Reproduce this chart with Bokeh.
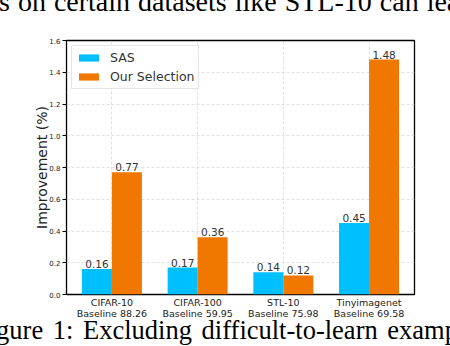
from bokeh.plotting import figure
from bokeh.models import (ColumnDataSource, Range1d, FixedTicker, PrintfTickFormatter,
                          Legend, LegendItem, LinearAxis, Div)
from bokeh.layouts import column
from bokeh.transform import dodge
from bokeh.core.properties import value
from bokeh.embed import file_html
from bokeh.resources import INLINE

# ---- data ----
categories = ["CIFAR-10", "CIFAR-100", "STL-10", "Tinyimagenet"]
baselines = ["Baseline 88.26", "Baseline 59.95", "Baseline 75.98", "Baseline 69.58"]
sas = [0.16, 0.17, 0.14, 0.45]
ours = [0.77, 0.36, 0.12, 1.48]
y_ticks = [0.0, 0.2, 0.4, 0.6, 0.8, 1.0, 1.2, 1.4, 1.6]
series_names = ["SAS", "Our Selection"]
top_text = "s on certain datasets like STL-10 can lead"
caption_text = "Figure 1: Excluding difficult-to-learn examples"

idx = list(range(len(categories)))

src = ColumnDataSource(dict(
    x=idx, sas=sas, ours=ours,
    sas_t=[f"{v:.2f}" for v in sas], ours_t=[f"{v:.2f}" for v in ours],
))

BLUE = "#00BFFF"
ORANGE = "#F07800"
FONT = "DejaVu Sans"

p = figure(width=450, height=314, x_range=Range1d(-0.53, 3.53), y_range=Range1d(0, 1.6),
           output_backend="svg", toolbar_location=None,
           min_border_left=66, min_border_right=36, min_border_top=28, min_border_bottom=32)

p.background_fill_color = "white"
p.border_fill_color = "white"
p.outline_line_color = "black"
p.outline_line_width = 1.3

bw = 0.35
r1 = p.vbar(x=dodge("x", -bw / 2), top="sas", width=bw, source=src, fill_color=BLUE, line_color=None)
r2 = p.vbar(x=dodge("x", bw / 2), top="ours", width=bw, source=src, fill_color=ORANGE, line_color=None)

for col, off in (("sas_t", -bw / 2), ("ours_t", bw / 2)):
    p.text(x=dodge("x", off), y=col.replace("_t", ""), text=col, source=src,
           text_align="center", text_baseline="bottom", y_offset=-1,
           text_font=value(FONT), text_font_size="10.5px", text_color="#333333")

# x axes: dataset names, then baseline line below
def style_x(ax, labels, standoff):
    ax.ticker = FixedTicker(ticks=idx)
    ax.major_label_overrides = {i: t for i, t in zip(idx, labels)}
    ax.major_label_text_font = FONT
    ax.major_label_text_font_size = "9.5px"
    ax.major_label_text_color = "#222222"
    ax.major_tick_line_color = None
    ax.minor_tick_line_color = None
    ax.major_tick_out = 0
    ax.major_tick_in = 0
    ax.minor_tick_out = 0
    ax.minor_tick_in = 0
    ax.axis_line_color = None
    ax.major_label_standoff = standoff

style_x(p.xaxis[0], categories, 2)
ax2 = LinearAxis()
style_x(ax2, baselines, -3)
p.add_layout(ax2, "below")

p.yaxis.ticker = FixedTicker(ticks=y_ticks)
p.yaxis.formatter = PrintfTickFormatter(format="%.1f")
p.yaxis.major_label_text_font = FONT
p.yaxis.major_label_text_font_size = "7px"
p.yaxis.major_label_text_color = "#222222"
p.yaxis.major_tick_out = 4
p.yaxis.major_tick_in = 0
p.yaxis.minor_tick_out = 0
p.yaxis.major_tick_line_color = "black"
p.yaxis.minor_tick_line_color = None
p.yaxis.axis_line_color = None
p.yaxis.major_label_standoff = 2
p.yaxis.axis_label = "Improvement (%)"
p.yaxis.axis_label_text_font = FONT
p.yaxis.axis_label_text_font_size = "14px"
p.yaxis.axis_label_text_font_style = "normal"
p.yaxis.axis_label_text_color = "#222222"
p.yaxis.axis_label_standoff = -4

p.xgrid.ticker = FixedTicker(ticks=idx)
p.ygrid.ticker = FixedTicker(ticks=y_ticks)
for g in (p.xgrid, p.ygrid):
    g.grid_line_color = "#d8d8d8"
    g.grid_line_dash = "3 2"
    g.grid_line_width = 0.8

legend = Legend(items=[LegendItem(label=series_names[0], renderers=[r1]),
                       LegendItem(label=series_names[1], renderers=[r2])],
                location="top_left", margin=5, padding=4, spacing=4,
                glyph_width=25, glyph_height=9, label_height=14, label_standoff=9,
                label_text_font=FONT, label_text_font_size="12.5px", label_text_color="#333333",
                border_line_color="#cccccc", border_line_width=1,
                background_fill_color="white", background_fill_alpha=0.8)
p.add_layout(legend)

# surrounding paper text (cropped in the reference; justified, hence wider word spacing)
SERIF = "font-family:'Liberation Serif',serif;line-height:1;color:#000;white-space:nowrap;"
top_div = Div(width=450, height=12, margin=0,
              text=f'<div style="position:relative;top:-12px;left:-1px;width:451px;overflow-x:clip;font-size:28px;word-spacing:1px;{SERIF}">{top_text}</div>')
cap_div = Div(width=450, height=20, margin=0,
              text=f'<div style="position:relative;top:-9px;left:0;width:450px;overflow-x:clip;text-indent:-26px;word-spacing:3px;font-size:26.5px;{SERIF}">{caption_text}</div>')

layout = column(top_div, p, cap_div, spacing=0)
open("out.html", "w").write(file_html(layout, INLINE))
